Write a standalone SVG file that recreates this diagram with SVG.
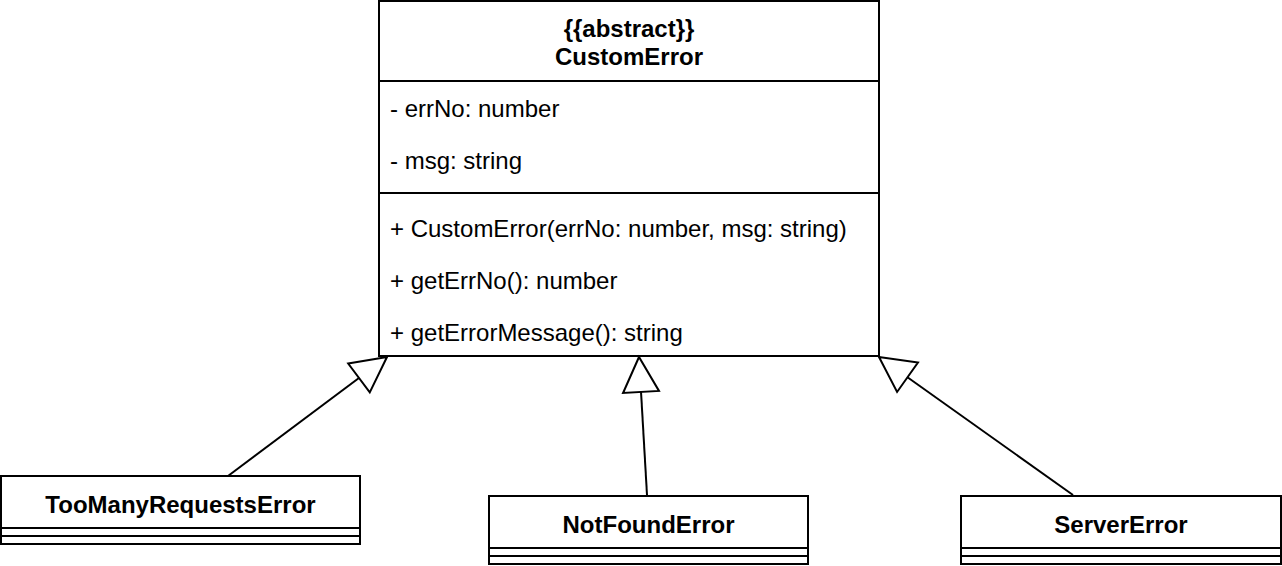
<svg xmlns="http://www.w3.org/2000/svg" width="1282" height="566" viewBox="0 0 1282 566">
<style>
.box{fill:#fff;stroke:#000;stroke-width:2}
.sep{stroke:#000;stroke-width:2;fill:none}
.t{font-family:"Liberation Sans",Arial,sans-serif;font-size:24px;fill:#000;dominant-baseline:central}
.b{font-weight:bold;text-anchor:middle}
.edge{stroke:#000;stroke-width:2;fill:none;marker-end:url(#inh)}
</style>
<defs>
<marker id="inh" markerUnits="userSpaceOnUse" markerWidth="40" markerHeight="40" refX="36" refY="18" orient="auto" overflow="visible">
<path d="M36,18 L1,0 L1,36 Z" fill="#fff" stroke="#000" stroke-width="2"/>
</marker>
</defs>
<rect width="1282" height="566" fill="#fff"/>
<g id="CustomError">
<rect class="box" x="379" y="1" width="500" height="355"/>
<line class="sep" x1="379" y1="81" x2="879" y2="81"/>
<line class="sep" x1="379" y1="193" x2="879" y2="193"/>
<text class="t b" x="629" y="28">{{abstract}}</text>
<text class="t b" x="629" y="56">CustomError</text>
<text class="t" x="390" y="108">- errNo: number</text>
<text class="t" x="390" y="160">- msg: string</text>
<text class="t" x="390" y="228">+ CustomError(errNo: number, msg: string)</text>
<text class="t" x="390" y="280">+ getErrNo(): number</text>
<text class="t" x="390" y="332">+ getErrorMessage(): string</text>
</g>
<g id="TooManyRequestsError">
<rect class="box" x="1" y="476" width="359" height="68"/>
<line class="sep" x1="1" y1="528" x2="360" y2="528"/>
<line class="sep" x1="1" y1="536" x2="360" y2="536"/>
<text class="t b" x="180.5" y="504">TooManyRequestsError</text>
</g>
<g id="NotFoundError">
<rect class="box" x="489" y="496" width="319" height="68"/>
<line class="sep" x1="489" y1="548" x2="808" y2="548"/>
<line class="sep" x1="489" y1="556" x2="808" y2="556"/>
<text class="t b" x="648.5" y="524">NotFoundError</text>
</g>
<g id="ServerError">
<rect class="box" x="961" y="496" width="320" height="68"/>
<line class="sep" x1="961" y1="548" x2="1281" y2="548"/>
<line class="sep" x1="961" y1="556" x2="1281" y2="556"/>
<text class="t b" x="1121" y="524">ServerError</text>
</g>
<g id="connectors">
<path class="edge" d="M228,476 L387,357"/>
<path class="edge" d="M647,495 L639,357"/>
<path class="edge" d="M1073,495 L879,357"/>
</g>
</svg>
